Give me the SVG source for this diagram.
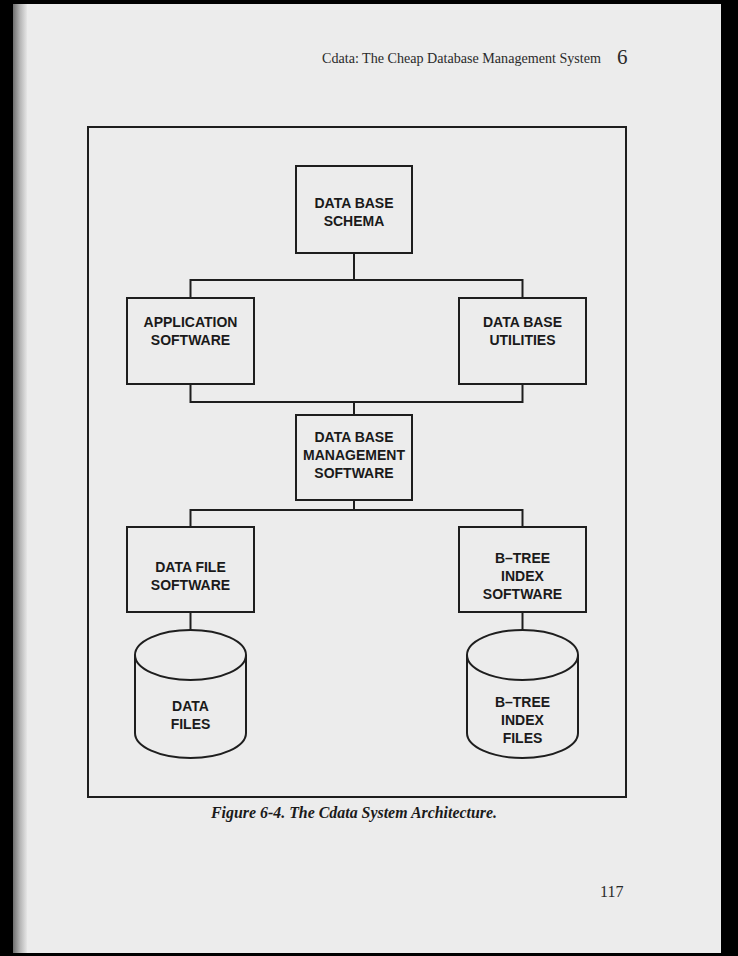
<svg xmlns="http://www.w3.org/2000/svg" width="738" height="956" viewBox="0 0 738 956">
<defs>
<linearGradient id="lshade" x1="0" y1="0" x2="1" y2="0">
<stop offset="0" stop-color="#6e6e6e"/>
<stop offset="0.5" stop-color="#b5b5b5"/>
<stop offset="1" stop-color="#e6e6e6"/>
</linearGradient>
</defs>
<style>
.box{fill:#ececec;stroke:#1e1e1e;stroke-width:2}
.cyl{fill:#ececec;stroke:#1e1e1e;stroke-width:2}
.ln{fill:none;stroke:#1e1e1e;stroke-width:2}
.lbl{font-family:"Liberation Sans",Arial,sans-serif;font-weight:bold;font-size:14px;fill:#1a1a1a;text-anchor:middle}
.hdr{font-family:"Liberation Serif","Times New Roman",serif;fill:#2a2a2a}
.cap{font-family:"Liberation Serif","Times New Roman",serif;font-weight:bold;font-style:italic;font-size:16px;fill:#1a1a1a}
</style>
<rect x="0" y="0" width="738" height="956" fill="#000"/>
<rect x="13" y="4" width="708" height="949" fill="#ececec"/>
<rect x="13" y="4" width="14" height="949" fill="url(#lshade)"/>
<text class="hdr" x="322" y="63" font-size="15" textLength="279" lengthAdjust="spacingAndGlyphs">Cdata: The Cheap Database Management System</text>
<text class="hdr" x="617" y="64" font-size="21">6</text>
<rect class="ln" x="88" y="127" width="538" height="670"/>
<g id="connectors">
<path class="ln" d="M354,253 V280 M190.5,298 V280 H522.5 V298"/>
<path class="ln" d="M190.5,384 V402 H522.5 V384 M354,402 V415"/>
<path class="ln" d="M354,500 V510 M190.5,527 V510 H522.5 V527"/>
<path class="ln" d="M190.5,612 V630 M522.5,612 V630"/>
</g>
<g id="schema">
<rect class="box" x="296" y="166" width="116" height="87"/>
<text class="lbl" x="354" y="208">DATA  BASE</text>
<text class="lbl" x="354" y="226">SCHEMA</text>
</g>
<g id="application">
<rect class="box" x="127" y="298" width="127" height="86"/>
<text class="lbl" x="190.5" y="327">APPLICATION</text>
<text class="lbl" x="190.5" y="345">SOFTWARE</text>
</g>
<g id="utilities">
<rect class="box" x="459" y="298" width="127" height="86"/>
<text class="lbl" x="522.5" y="327">DATA  BASE</text>
<text class="lbl" x="522.5" y="345">UTILITIES</text>
</g>
<g id="dbms">
<rect class="box" x="296" y="415" width="116" height="85"/>
<text class="lbl" x="354" y="442">DATA  BASE</text>
<text class="lbl" x="354" y="460">MANAGEMENT</text>
<text class="lbl" x="354" y="478">SOFTWARE</text>
</g>
<g id="datafile">
<rect class="box" x="127" y="527" width="127" height="85"/>
<text class="lbl" x="190.5" y="572">DATA  FILE</text>
<text class="lbl" x="190.5" y="590">SOFTWARE</text>
</g>
<g id="btree">
<rect class="box" x="459" y="527" width="127" height="85"/>
<text class="lbl" x="522.5" y="563">B–TREE</text>
<text class="lbl" x="522.5" y="581">INDEX</text>
<text class="lbl" x="522.5" y="599">SOFTWARE</text>
</g>
<g id="datafiles">
<path class="cyl" d="M135,655 V733 A55.5,25 0 0 0 246,733 V655"/>
<ellipse class="cyl" cx="190.5" cy="655" rx="55.5" ry="25"/>
<text class="lbl" x="190.5" y="711">DATA</text>
<text class="lbl" x="190.5" y="729">FILES</text>
</g>
<g id="btreefiles">
<path class="cyl" d="M467,655 V733 A55.5,25 0 0 0 578,733 V655"/>
<ellipse class="cyl" cx="522.5" cy="655" rx="55.5" ry="25"/>
<text class="lbl" x="522.5" y="707">B–TREE</text>
<text class="lbl" x="522.5" y="725">INDEX</text>
<text class="lbl" x="522.5" y="743">FILES</text>
</g>
<text class="cap" x="211" y="818" textLength="286" lengthAdjust="spacingAndGlyphs">Figure 6-4.  The Cdata System Architecture.</text>
<text class="hdr" x="600" y="897" font-size="16">117</text>
</svg>
